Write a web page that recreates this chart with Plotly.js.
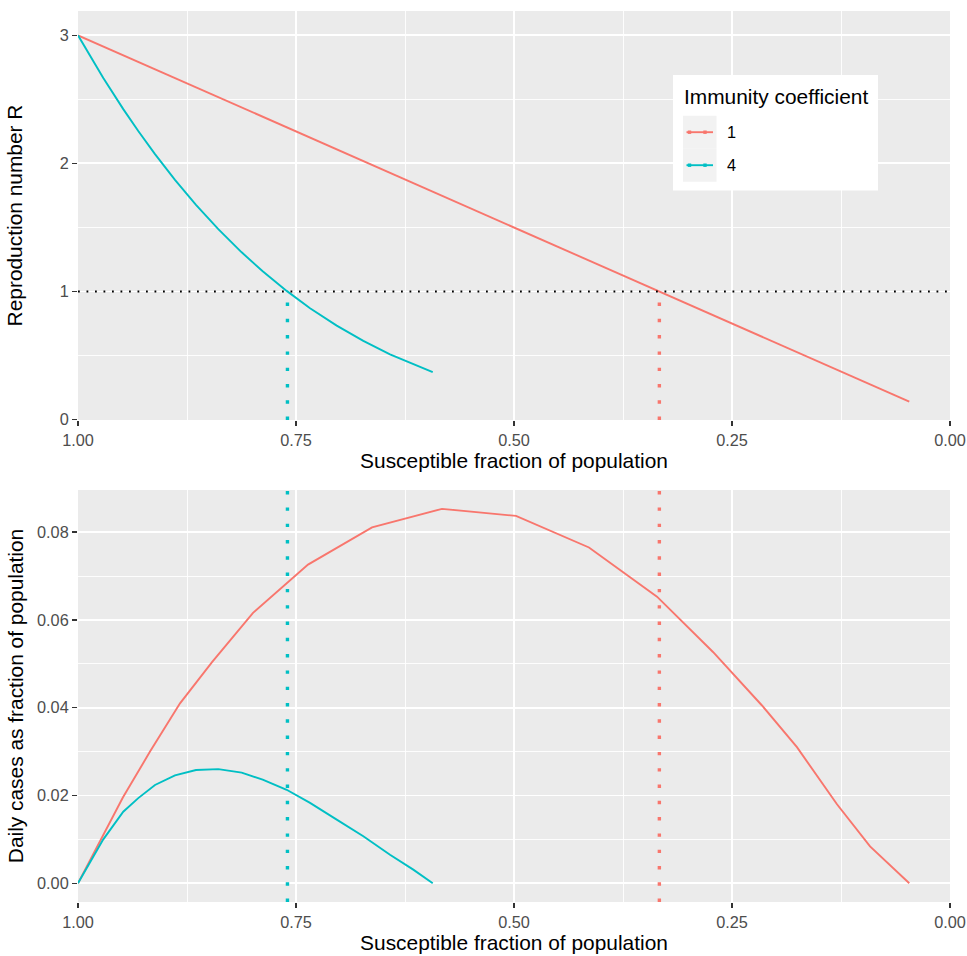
<!DOCTYPE html>
<html>
<head>
<meta charset="utf-8">
<script src="https://cdn.plot.ly/plotly-3.0.1.min.js"></script>
<style>html,body{margin:0;padding:0;background:#fff;}#chart{width:967px;height:956px;}</style>
</head>
<body>
<div id="chart"></div>
<script>
// ---- data ----
const seriesNames = ["1", "4"];
const seriesColors = ["#F8766D", "#00BFC4"];

const S_red = [1.000, 0.9713, 0.9484, 0.9174, 0.8830, 0.8463, 0.7993, 0.7362, 0.6628, 0.5826, 0.4977, 0.4140, 0.3360, 0.2718, 0.2156, 0.1755, 0.1296, 0.0917, 0.0467];
const R_red = [3.000, 2.914, 2.845, 2.752, 2.649, 2.539, 2.398, 2.209, 1.988, 1.748, 1.493, 1.242, 1.008, 0.815, 0.647, 0.527, 0.389, 0.275, 0.140];
const cases_red = [0.0000, 0.0109, 0.0196, 0.0300, 0.0410, 0.0504, 0.0616, 0.0726, 0.0811, 0.0853, 0.0837, 0.0765, 0.0653, 0.0527, 0.0405, 0.0310, 0.0180, 0.0084, 0.0000];

const S_blue = [1.000, 0.9710, 0.9481, 0.9309, 0.9117, 0.8888, 0.8647, 0.8391, 0.8123, 0.7882, 0.7607, 0.7339, 0.7033, 0.6728, 0.6422, 0.6155, 0.5932];
const R_blue = [3.000, 2.667, 2.424, 2.253, 2.073, 1.872, 1.677, 1.487, 1.306, 1.158, 1.005, 0.870, 0.734, 0.615, 0.510, 0.431, 0.371];
const cases_blue = [0.0000, 0.0100, 0.0163, 0.0194, 0.0224, 0.0246, 0.0258, 0.0260, 0.0252, 0.0236, 0.0213, 0.0183, 0.0145, 0.0107, 0.0065, 0.0031, 0.0000];

const thresholds = [0.3333, 0.7598];   // S where R = 1, for series "1" and "4"
const R_threshold = 1;

const xTickVals = [1, 0.75, 0.5, 0.25, 0];
const xTickText = ["1.00", "0.75", "0.50", "0.25", "0.00"];
const yTopTicks = [0, 1, 2, 3];
const yBotTicks = [0, 0.02, 0.04, 0.06, 0.08];
const yBotText = ["0.00", "0.02", "0.04", "0.06", "0.08"];

// ---- geometry (pixels) ----
const W = 967, H = 956;
const mL = 78, mR = 17, mT = 11, mB = 54;
const plotW = W - mL - mR, plotH = H - mT - mB;
const px2x = p => (p - mL) / plotW;
const py2y = p => (H - mB - p) / plotH;

const FONT = "Liberation Sans, Arial, Helvetica, sans-serif";
const lineW = 1.9;
const TICK_SIZE = 16.3, TITLE_SIZE = 20.9;

const traces = [
  {x: S_red, y: R_red, xaxis: "x", yaxis: "y", mode: "lines", name: seriesNames[0], line: {color: seriesColors[0], width: lineW}},
  {x: S_blue, y: R_blue, xaxis: "x", yaxis: "y", mode: "lines", name: seriesNames[1], line: {color: seriesColors[1], width: lineW}},
  {x: S_red, y: cases_red, xaxis: "x2", yaxis: "y2", mode: "lines", name: seriesNames[0], line: {color: seriesColors[0], width: lineW}},
  {x: S_blue, y: cases_blue, xaxis: "x2", yaxis: "y2", mode: "lines", name: seriesNames[1], line: {color: seriesColors[1], width: lineW}}
];

const shapes = [];
// horizontal dotted line R = 1
shapes.push({type: "line", xref: "x domain", yref: "y", x0: 0, x1: 1, y0: R_threshold, y1: R_threshold,
  line: {color: "#000000", width: 1.8, dash: "1.8px,6.7px"}, layer: "above"});
thresholds.forEach((t, i) => {
  const c = seriesColors[i];
  shapes.push({type: "line", xref: "x", yref: "y", x0: t, x1: t, y0: -0.003, y1: R_threshold,
    line: {color: c, width: 3.4, dash: "3.4px,12.9px"}, layer: "above"});
  shapes.push({type: "line", xref: "x2", yref: "y2 domain", x0: t, x1: t, y0: 0, y1: 1,
    line: {color: c, width: 3.4, dash: "3.4px,12.9px"}, layer: "above"});
});

// ---- legend (drawn ggplot style) ----
const annotations = [];
shapes.push({type: "rect", xref: "paper", yref: "paper", x0: px2x(673), x1: px2x(878), y0: py2y(190.5), y1: py2y(75),
  fillcolor: "#FFFFFF", line: {width: 0}, layer: "above"});
annotations.push({xref: "paper", yref: "paper", x: px2x(682), y: py2y(96), xanchor: "left", yanchor: "middle",
  text: "Immunity coefficient", showarrow: false, font: {family: FONT, size: TITLE_SIZE, color: "#000000"}});
seriesNames.forEach((nm, i) => {
  const top = 115.7 + i * 33, bot = top + 33, cy = (top + bot) / 2;
  shapes.push({type: "rect", xref: "paper", yref: "paper", x0: px2x(683), x1: px2x(716.5), y0: py2y(bot), y1: py2y(top),
    fillcolor: "#F2F2F2", line: {width: 0}, layer: "above"});
  shapes.push({type: "line", xref: "paper", yref: "paper", x0: px2x(686.5), x1: px2x(713), y0: py2y(cy), y1: py2y(cy),
    line: {color: seriesColors[i], width: lineW}, layer: "above"});
  [689.5, 705].forEach(mx => {
    shapes.push({type: "rect", xref: "paper", yref: "paper", x0: px2x(mx - 1.7), x1: px2x(mx + 1.7), y0: py2y(cy + 1.7), y1: py2y(cy - 1.7),
      fillcolor: seriesColors[i], line: {width: 0}, layer: "above"});
  });
  annotations.push({xref: "paper", yref: "paper", x: px2x(725), y: py2y(cy), xanchor: "left", yanchor: "middle",
    text: nm, showarrow: false, font: {family: FONT, size: TICK_SIZE, color: "#000000"}});
});

const tickFont = {family: FONT, size: TICK_SIZE, color: "#4D4D4D"};
const titleFont = {family: FONT, size: TITLE_SIZE, color: "#000000"};
const gridCommon = {showgrid: true, gridcolor: "#FFFFFF", gridwidth: 1.9, zeroline: false, showline: false,
  ticks: "outside", ticklen: 5, tickwidth: 1.3, tickcolor: "#333333", tickfont: tickFont};

function xAxis(anchor) {
  return Object.assign({}, gridCommon, {
    anchor: anchor, range: [1, 0], tickvals: xTickVals, ticktext: xTickText,
    minor: {tickvals: [0.875, 0.625, 0.375, 0.125], showgrid: true, gridcolor: "#FFFFFF", gridwidth: 0.9},
    title: {text: "Susceptible fraction of population", font: titleFont, standoff: 3}
  });
}

const layout = {
  width: W, height: H,
  margin: {l: mL, r: mR, t: mT, b: mB, pad: 0},
  paper_bgcolor: "#FFFFFF", plot_bgcolor: "#EBEBEB",
  showlegend: false,
  font: {family: FONT},
  xaxis: xAxis("y"),
  xaxis2: xAxis("y2"),
  yaxis: Object.assign({}, gridCommon, {
    domain: [py2y(420), 1], range: [-0.003, 3.19], tickvals: yTopTicks,
    minor: {tickvals: [0.5, 1.5, 2.5], showgrid: true, gridcolor: "#FFFFFF", gridwidth: 0.9},
    title: {text: "Reproduction number R", font: titleFont, standoff: 31}
  }),
  yaxis2: Object.assign({}, gridCommon, {
    domain: [0, py2y(490)], range: [-0.00427, 0.0896], tickvals: yBotTicks, ticktext: yBotText,
    minor: {tickvals: [0.01, 0.03, 0.05, 0.07], showgrid: true, gridcolor: "#FFFFFF", gridwidth: 0.9},
    title: {text: "Daily cases as fraction of population", font: titleFont, standoff: 7}
  }),
  shapes: shapes,
  annotations: annotations
};

Plotly.newPlot("chart", traces, layout, {displayModeBar: false, staticPlot: true});
</script>
</body>
</html>
